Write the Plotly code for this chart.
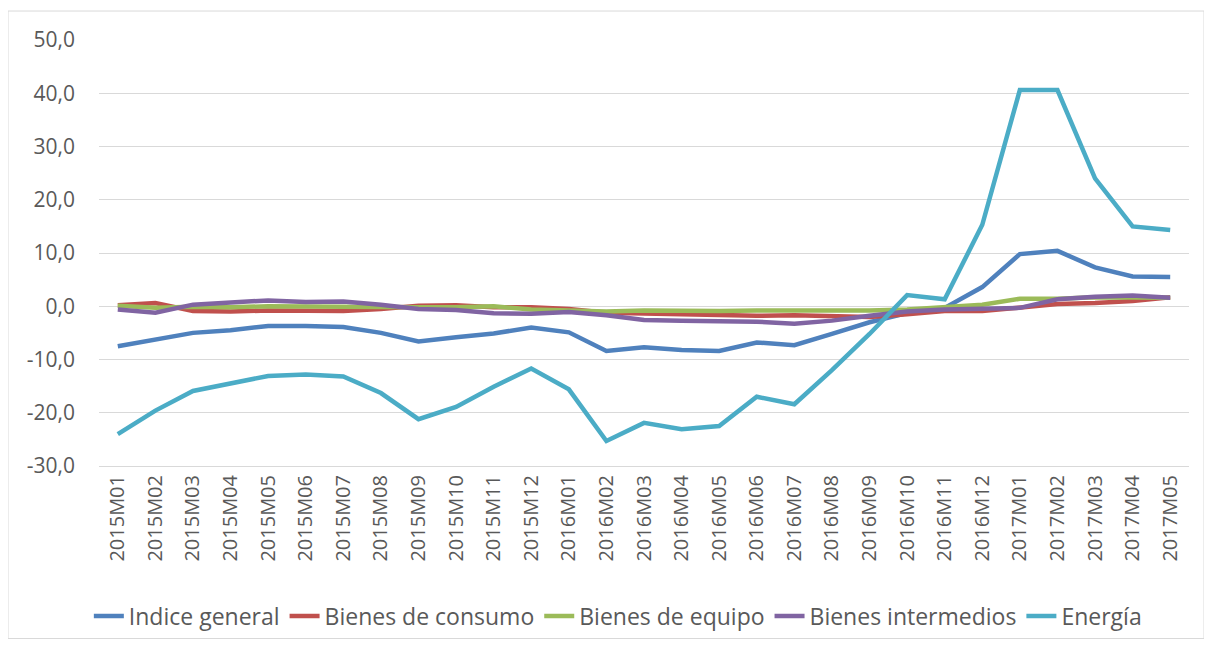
import plotly.graph_objects as go

meses = ["2015M01", "2015M02", "2015M03", "2015M04", "2015M05", "2015M06", "2015M07",
         "2015M08", "2015M09", "2015M10", "2015M11", "2015M12",
         "2016M01", "2016M02", "2016M03", "2016M04", "2016M05", "2016M06", "2016M07",
         "2016M08", "2016M09", "2016M10", "2016M11", "2016M12",
         "2017M01", "2017M02", "2017M03", "2017M04", "2017M05"]

indice_general = [-7.5, -6.2, -5.0, -4.5, -3.7, -3.7, -3.9, -5.0, -6.6, -5.8, -5.1, -4.0,
                  -4.9, -8.4, -7.7, -8.2, -8.4, -6.8, -7.3, -5.2, -3.0, -1.3, -0.3, 3.6,
                  9.8, 10.4, 7.3, 5.6, 5.5]
bienes_consumo = [0.2, 0.6, -0.9, -1.0, -0.8, -0.9, -0.9, -0.5, 0.1, 0.2, -0.2, -0.2,
                  -0.5, -1.2, -1.4, -1.6, -1.8, -1.8, -1.7, -1.9, -2.0, -1.5, -0.9, -0.9,
                  -0.3, 0.4, 0.6, 1.0, 1.7]
bienes_equipo = [0.1, -0.3, -0.1, -0.2, 0.0, -0.1, 0.0, -0.2, -0.2, -0.2, 0.0, -0.6,
                 -0.8, -1.0, -0.8, -0.9, -0.9, -0.8, -0.8, -1.0, -0.8, -0.6, -0.2, 0.3,
                 1.4, 1.4, 1.7, 1.6, 1.6]
bienes_intermedios = [-0.6, -1.2, 0.3, 0.6, 1.1, 0.8, 0.9, 0.3, -0.5, -0.7, -1.3, -1.4,
                      -1.1, -1.7, -2.6, -2.7, -2.7, -2.9, -3.3, -2.7, -1.8, -1.0, -0.6, -0.5,
                      -0.3, 1.3, 1.8, 2.0, 1.6]
energia = [-24.0, -19.6, -15.9, -14.6, -13.1, -12.8, -13.2, -16.3, -21.2, -18.9, -15.1, -11.7,
           -15.6, -25.3, -21.9, -23.1, -22.5, -17.0, -18.4, -12.0, -5.2, 2.1, 1.3, 15.3,
           40.6, 40.6, 24.0, 15.0, 14.3]

y_ticks = [-30, -20, -10, 0, 10, 20, 30, 40, 50]
y_labels = ["-30,0", "-20,0", "-10,0", "0,0", "10,0", "20,0", "30,0", "40,0", "50,0"]

series = [("Indice general", indice_general, "#4f81bd"),
          ("Bienes de consumo", bienes_consumo, "#c0504d"),
          ("Bienes de equipo", bienes_equipo, "#9bbb59"),
          ("Bienes intermedios", bienes_intermedios, "#8064a2"),
          ("Energía", energia, "#4bacc6")]

fig = go.Figure()
for nombre, valores, color in series:
    fig.add_trace(go.Scatter(x=meses, y=valores, name=nombre, mode="lines",
                             line=dict(color=color, width=4.5)))

# la página tiene 8px de margen en el body
fig.update_layout(
    width=1204, height=640,
    margin=dict(l=91, r=23, t=32, b=181),
    plot_bgcolor="white", paper_bgcolor="white",
    font=dict(family="Open Sans", size=18, color="#595959"),
    legend=dict(orientation="h", x=0.476, xanchor="center", y=-0.349, yanchor="middle",
                font=dict(size=23, color="#595959"), itemwidth=30, tracegroupgap=0),
    showlegend=True,
)
fig.update_xaxes(type="category", range=[-0.5, 28.5], tickangle=-90, showgrid=False,
                 showline=True, linecolor="#d9d9d9", ticks="", tickfont=dict(size=20))
fig.update_yaxes(range=[-30, 50], tickvals=y_ticks, ticktext=y_labels, showgrid=True,
                 gridcolor="#d9d9d9", zeroline=True, zerolinecolor="#d9d9d9",
                 zerolinewidth=1, ticks="", tickfont=dict(size=21), ticklabelstandoff=23)
# borde del gráfico
fig.add_shape(type="rect", xref="paper", yref="paper", x0=-0.0835, x1=1.0138,
              y0=-0.405, y1=1.068, line=dict(color="#d9d9d9", width=1), layer="below")

fig.write_html("out.html")
